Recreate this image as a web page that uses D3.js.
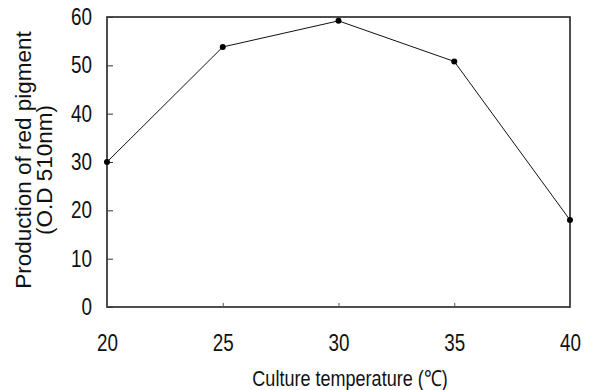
<!DOCTYPE html>
<html>
<head>
<meta charset="utf-8">
<script src="https://cdn.jsdelivr.net/npm/d3@7"></script>
<style>
  html, body { margin: 0; padding: 0; background: #fff; }
  svg { display: block; }
</style>
</head>
<body>
<script>
const temperatures = [20, 25, 30, 35, 40];
const pigmentOD = [30, 53.8, 59.2, 50.8, 18];
const xTicks = [20, 25, 30, 35, 40];
const yTicks = [0, 10, 20, 30, 40, 50, 60];
const xTitle = "Culture temperature (\u2103)";
const yTitleLines = ["Production of red pigment", "(O.D 510nm)"];

const W = 591, H = 390;
const margin = { left: 107, right: 21, top: 17, bottom: 83 };
const iw = W - margin.left - margin.right;
const ih = H - margin.top - margin.bottom;
const SX = 0.82; // horizontal condensing of the tick/title font

const svg = d3.select("body").append("svg").attr("width", W).attr("height", H);
const g = svg.append("g").attr("transform", `translate(${margin.left},${margin.top})`);

const x = d3.scaleLinear().domain([20, 40]).range([0, iw]);
const y = d3.scaleLinear().domain([0, 60]).range([ih, 0]);

const font = "'Liberation Sans', Arial, sans-serif";

// frame
g.append("rect").attr("x", 0).attr("y", 0).attr("width", iw).attr("height", ih)
  .attr("fill", "none").attr("stroke", "#222").attr("stroke-width", 1.6);

// y axis (ticks inward)
const yPad = 15;
const yAxis = g.append("g").call(d3.axisLeft(y).tickValues(yTicks).tickSizeInner(-6).tickSizeOuter(0).tickPadding(yPad));
yAxis.select(".domain").remove();
yAxis.selectAll("line").attr("stroke", "#333").attr("stroke-width", 1);
yAxis.selectAll("text").attr("font-family", font).attr("font-size", 23).attr("fill", "#111")
  .attr("transform", `scale(${SX},1)`).attr("x", -yPad / SX);

// x axis (ticks inward)
const xAxis = g.append("g").attr("transform", `translate(0,${ih})`)
  .call(d3.axisBottom(x).tickValues(xTicks).tickSizeInner(-4).tickSizeOuter(0).tickPadding(28));
xAxis.select(".domain").remove();
xAxis.selectAll("line").attr("stroke", "#555").attr("stroke-width", 1);
xAxis.selectAll("text").attr("font-family", font).attr("font-size", 23).attr("fill", "#111")
  .attr("transform", `scale(${SX},1)`);

// line
const data = temperatures.map((t, i) => ({ t, v: pigmentOD[i] }));
g.append("path").datum(data)
  .attr("fill", "none").attr("stroke", "#111").attr("stroke-width", 1)
  .attr("d", d3.line().x(d => x(d.t)).y(d => y(d.v)));
g.selectAll("circle.pt").data(data).enter().append("circle")
  .attr("class", "pt").attr("cx", d => x(d.t)).attr("cy", d => y(d.v)).attr("r", 3)
  .attr("fill", "#000");

// x title
svg.append("text").attr("transform", `translate(350,386) scale(${SX},1)`).attr("text-anchor", "middle")
  .attr("font-family", font).attr("font-size", 22).attr("fill", "#111").text(xTitle);

// y title
svg.append("text").attr("transform", "translate(31,160) rotate(-90)").attr("text-anchor", "middle")
  .attr("font-family", font).attr("font-size", 22.5).attr("fill", "#111")
  .text(yTitleLines[0]);
svg.append("text").attr("transform", "translate(52,170) rotate(-90)").attr("text-anchor", "middle")
  .attr("font-family", font).attr("font-size", 22.5).attr("fill", "#111")
  .text(yTitleLines[1]);
</script>
</body>
</html>
